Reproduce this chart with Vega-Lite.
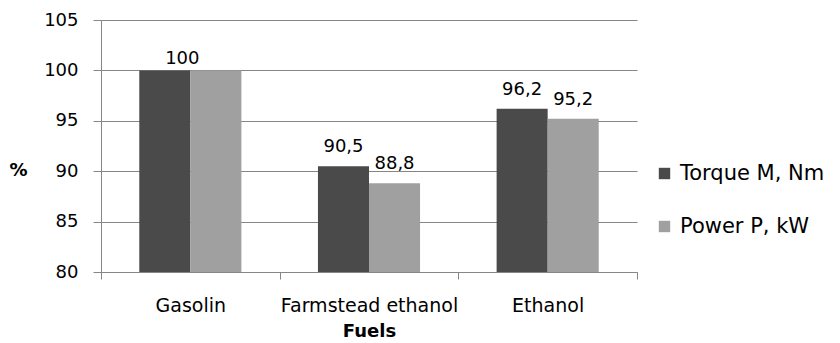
{
  "$schema": "https://vega.github.io/schema/vega-lite/v6.json",
  "width": 536,
  "height": 252,
  "autosize": {"type": "none"},
  "padding": {"left": 101, "top": 20, "right": 203, "bottom": 71},
  "background": "white",
  "config": {
    "view": {"stroke": null},
    "locale": {
      "number": {"decimal": ",", "thousands": " ", "grouping": [3], "currency": ["", ""]}
    },
    "axis": {
      "labelFont": "DejaVu Sans",
      "titleFont": "DejaVu Sans",
      "labelColor": "#000000",
      "titleColor": "#000000",
      "domainColor": "#868686",
      "tickColor": "#868686",
      "gridColor": "#868686",
      "labelFontSize": 18,
      "titleFontSize": 18,
      "titleFontWeight": "bold"
    },
    "legend": {
      "labelFont": "DejaVu Sans",
      "labelFontSize": 21,
      "labelColor": "#000000"
    }
  },
  "data": {
    "values": [
      {"fuel": "Gasolin", "series": "Torque M, Nm", "value": 100},
      {"fuel": "Gasolin", "series": "Power P, kW", "value": 100},
      {"fuel": "Farmstead ethanol", "series": "Torque M, Nm", "value": 90.5},
      {"fuel": "Farmstead ethanol", "series": "Power P, kW", "value": 88.8},
      {"fuel": "Ethanol", "series": "Torque M, Nm", "value": 96.2},
      {"fuel": "Ethanol", "series": "Power P, kW", "value": 95.2}
    ]
  },
  "layer": [
    {
      "mark": {"type": "bar"},
      "encoding": {
        "x": {
          "field": "fuel",
          "type": "nominal",
          "sort": ["Gasolin", "Farmstead ethanol", "Ethanol"],
          "scale": {"paddingInner": 0, "paddingOuter": 0},
          "axis": {
            "title": "Fuels",
            "labelAngle": 0,
            "labelFontSize": 19,
            "tickBand": "extent",
            "tickSize": 7,
            "labelPadding": 17,
            "grid": false,
            "titleY": 50,
            "titleBaseline": "top",
            "titleFontSize": 18
          }
        },
        "xOffset": {
          "field": "series",
          "type": "nominal",
          "sort": ["Torque M, Nm", "Power P, kW"],
          "scale": {"paddingInner": 0, "paddingOuter": 0.75}
        },
        "y": {
          "field": "value",
          "type": "quantitative",
          "scale": {"domain": [80, 105], "nice": false, "zero": false},
          "axis": {
            "title": "%",
            "values": [80, 85, 90, 95, 100, 105],
            "tickSize": 8,
            "labelPadding": 15,
            "grid": true,
            "titleAngle": 0,
            "titleX": -83,
            "titleY": 150,
            "titleAlign": "center",
            "titleBaseline": "middle"
          }
        },
        "y2": {"datum": 80},
        "color": {
          "field": "series",
          "type": "nominal",
          "sort": ["Torque M, Nm", "Power P, kW"],
          "scale": {"range": ["#4a4a4a", "#a0a0a0"]},
          "legend": {
            "title": null,
            "orient": "none",
            "legendX": 553,
            "legendY": 143,
            "symbolType": "square",
            "symbolSize": 130,
            "symbolStrokeWidth": 0,
            "rowPadding": 31,
            "labelOffset": 5
          }
        }
      }
    },
    {
      "transform": [{"filter": "datum.fuel !== 'Gasolin'"}],
      "mark": {"type": "text", "font": "DejaVu Sans", "fontSize": 18, "color": "#000000", "baseline": "alphabetic", "dy": -14},
      "encoding": {
        "x": {"field": "fuel", "type": "nominal", "sort": ["Gasolin", "Farmstead ethanol", "Ethanol"]},
        "xOffset": {"field": "series", "type": "nominal", "sort": ["Torque M, Nm", "Power P, kW"]},
        "y": {"field": "value", "type": "quantitative"},
        "text": {"field": "value", "type": "quantitative"}
      }
    },
    {
      "transform": [{"filter": "datum.fuel === 'Gasolin' && datum.series === 'Torque M, Nm'"}],
      "mark": {"type": "text", "font": "DejaVu Sans", "fontSize": 18, "color": "#000000", "baseline": "alphabetic", "dy": -6, "dx": -8},
      "encoding": {
        "x": {"field": "fuel", "type": "nominal", "sort": ["Gasolin", "Farmstead ethanol", "Ethanol"]},
        "y": {"field": "value", "type": "quantitative"},
        "text": {"field": "value", "type": "quantitative"}
      }
    }
  ]
}
